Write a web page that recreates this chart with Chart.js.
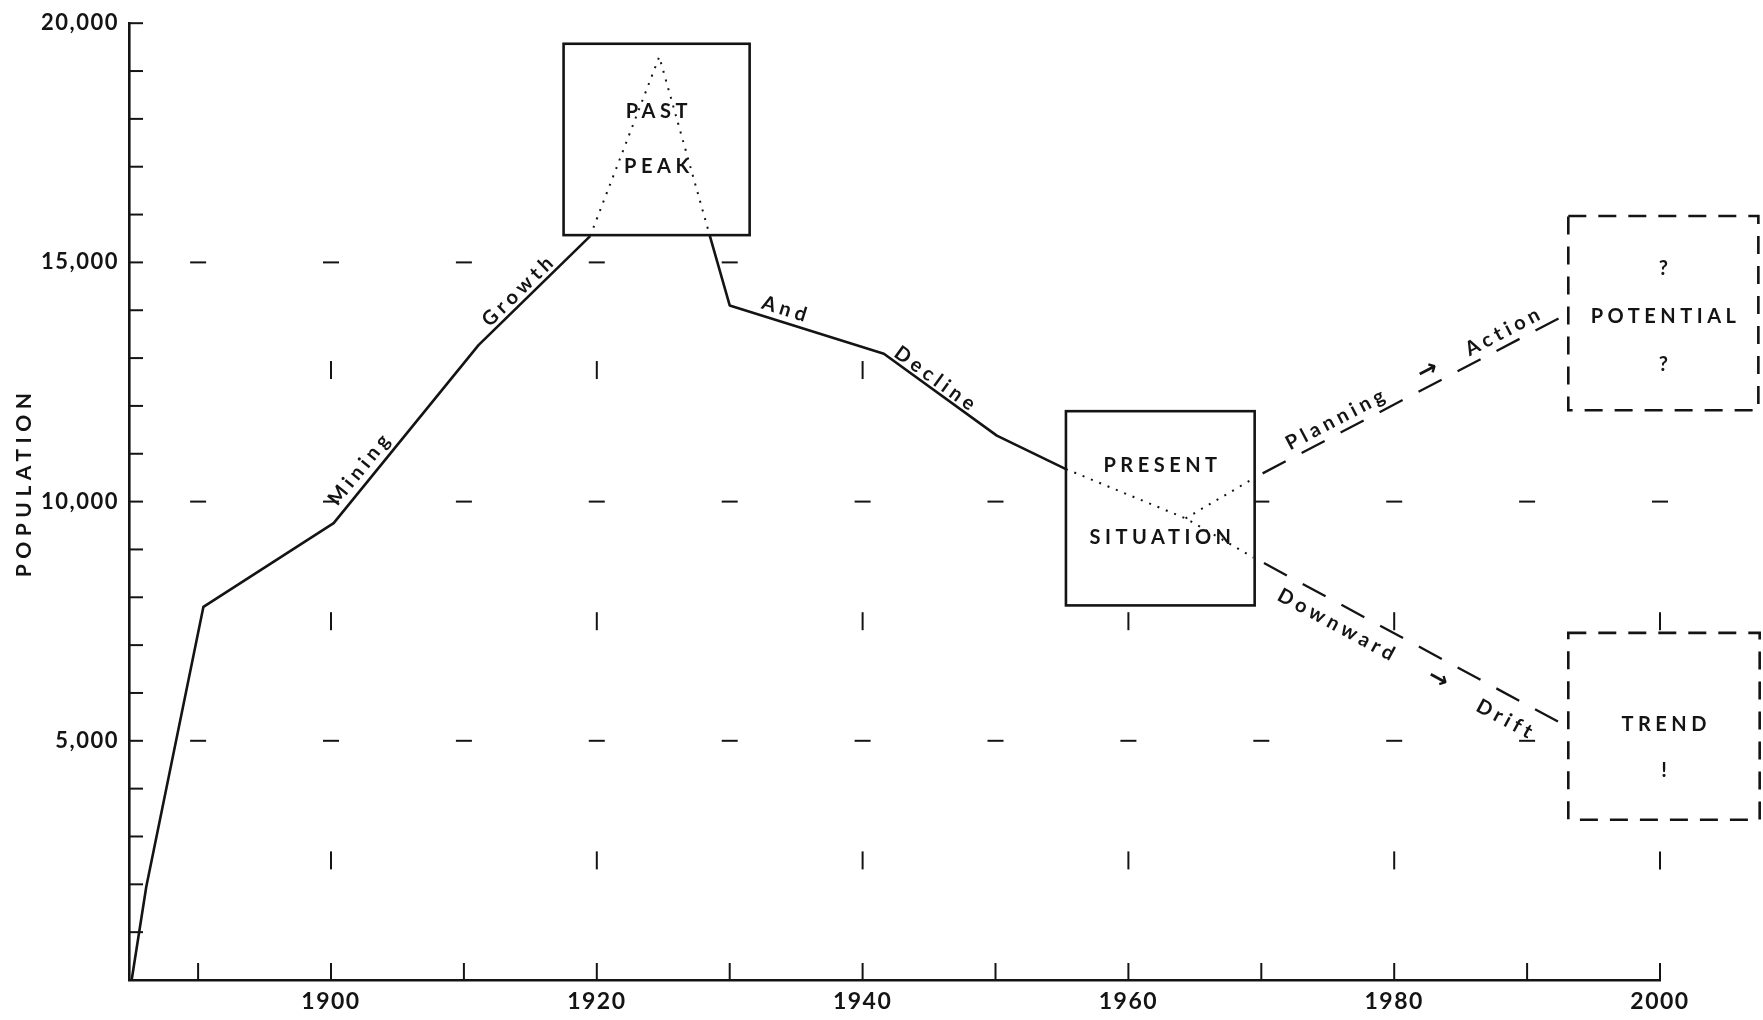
<!DOCTYPE html>
<html>
<head>
<meta charset="utf-8">
<title>Population</title>
<script src="https://cdn.jsdelivr.net/npm/chart.js@4.4.1/dist/chart.umd.min.js"></script>
<style>
  html, body { margin: 0; padding: 0; background: #fff; }
  canvas { display: block; }
</style>
</head>
<body>
<canvas id="popChart" width="1763" height="1020"></canvas>
<script>
// values (year, population)
const growthYears = [1885.0, 1886.1, 1890.4, 1900.2, 1911.1, 1919.5];
const growthPop   = [0, 1950, 7800, 9550, 13270, 15550];

const peakYears = [1919.5, 1924.7, 1928.5];
const peakPop   = [15550, 19300, 15560];

const declineYears = [1928.5, 1930.0, 1941.6, 1950.1, 1955.3];
const declinePop   = [15560, 14100, 13090, 11380, 10680];

const presentYears = [1955.3, 1964.3, 1969.4];
const presentPop   = [10680, 9650, 8830];
const branchYears  = [1964.3, 1969.4];
const branchPop    = [9650, 10480];

const planningYears = [1970.1, 1993.0];
const planningPop   = [10590, 13920];
const driftYears    = [1970.2, 1993.0];
const driftPop      = [8715, 5300];

// axes
const xTickYears  = [1890, 1900, 1910, 1920, 1930, 1940, 1950, 1960, 1970, 1980, 1990, 2000];
const xLabelYears = [1900, 1920, 1940, 1960, 1980, 2000];
const yTickValues = [1000, 2000, 3000, 4000, 5000, 6000, 7000, 8000, 9000, 10000,
                     11000, 12000, 13000, 14000, 15000, 16000, 17000, 18000, 19000, 20000];
const yLabelValues = [5000, 10000, 15000, 20000];

// the sparse dash grid inside the plot
const hDashRows = [
  { value: 15000, years: [1890, 1900, 1910, 1920, 1930] },
  { value: 10000, years: xTickYears },
  { value: 5000,  years: xTickYears }
];
const vDashRows = [
  { value: 12750, years: [1900, 1920, 1940] },
  { value: 7500,  years: xLabelYears },
  { value: 2500,  years: xLabelYears }
];

const INK = '#141414';
const FONT = 'Lato, "Open Sans", "DejaVu Sans", sans-serif';

// boxes round the stages
const boxes = [
  { x0: 1917.5, x1: 1931.5, y0: 15570, y1: 19570, dashed: false,
    text: [['PAST', 18160], ['PEAK', 17000]] },
  { x0: 1955.3, x1: 1969.5, y0: 7830, y1: 11890, dashed: false,
    text: [['PRESENT', 10760], ['SITUATION', 9250]] },
  { x0: 1993.1, x1: 2007.4, y0: 11910, y1: 15970, dashed: true,
    text: [['?', 14875], ['POTENTIAL', 13867], ['?', 12860]] },
  { x0: 1993.1, x1: 2007.5, y0: 3350, y1: 7256, dashed: true,
    text: [['TREND', 5333], ['!', 4375]] }
];

// words written along the line (segment of a series, place along it, distance off it)
const lineLabels = [
  { text: 'Mining',   years: growthYears,   pops: growthPop,   seg: 3, t: 0.25, off: 14 },
  { text: 'Growth',   years: growthYears,   pops: growthPop,   seg: 4, t: 0.42, off: 11 },
  { text: 'And',      years: declineYears,  pops: declinePop,  seg: 1, t: 0.33, off: 13 },
  { text: 'Decline',  years: declineYears,  pops: declinePop,  seg: 2, t: 0.40, off: 10 },
  { text: 'Planning', years: planningYears, pops: planningPop, seg: 0, t: 0.26, off: 14 },
  { text: '\u2192',   years: planningYears, pops: planningPop, seg: 0, t: 0.565, off: 14, arrow: true },
  { text: 'Action',   years: planningYears, pops: planningPop, seg: 0, t: 0.81, off: 14 },
  { text: 'Downward', years: driftYears,    pops: driftPop,    seg: 0, t: 0.27, off: -20 },
  { text: '\u2192',   years: driftYears,    pops: driftPop,    seg: 0, t: 0.605, off: -20, arrow: true },
  { text: 'Drift',    years: driftYears,    pops: driftPop,    seg: 0, t: 0.83, off: -23 }
];

function series(years, pops, extra) {
  return Object.assign({
    data: years.map((yr, i) => ({ x: yr, y: pops[i] })),
    borderColor: INK,
    borderWidth: 2.6,
    borderJoinStyle: 'round',
    pointRadius: 0,
    tension: 0,
    fill: false
  }, extra);
}

const dotted = { borderWidth: 2, borderDash: [2, 7] };
const dashed = { borderWidth: 2.3, borderDash: [26, 18] };

function stroke(ctx, x1, y1, x2, y2) {
  ctx.beginPath();
  ctx.moveTo(x1, y1);
  ctx.lineTo(x2, y2);
  ctx.stroke();
}

const sketch = {
  id: 'sketch',
  beforeDraw(chart) {
    // spaced-out lettering for the axis numbers
    chart.ctx.letterSpacing = '1.5px';
  },
  beforeDatasetsDraw(chart) {
    const { ctx, chartArea, scales: { x, y } } = chart;
    ctx.save();
    ctx.strokeStyle = INK;
    ctx.lineWidth = 2;

    // tick marks point into the plot
    x.ticks.forEach(t => {
      const px = x.getPixelForValue(t.value);
      stroke(ctx, px, chartArea.bottom, px, chartArea.bottom - 17);
    });
    y.ticks.forEach(t => {
      const py = y.getPixelForValue(t.value);
      stroke(ctx, chartArea.left, py, chartArea.left + 14, py);
    });

    hDashRows.forEach(row => {
      const py = y.getPixelForValue(row.value);
      row.years.forEach(yr => {
        const px = x.getPixelForValue(yr);
        stroke(ctx, px - 8, py, px + 8, py);
      });
    });
    vDashRows.forEach(row => {
      const py = y.getPixelForValue(row.value);
      row.years.forEach(yr => {
        const px = x.getPixelForValue(yr);
        stroke(ctx, px, py - 9, px, py + 9);
      });
    });

    ctx.fillStyle = '#fff';
    boxes.forEach(b => {
      const l = x.getPixelForValue(b.x0), r = x.getPixelForValue(b.x1);
      const t = y.getPixelForValue(b.y1), btm = y.getPixelForValue(b.y0);
      ctx.fillRect(l, t, r - l, btm - t);
    });
    ctx.restore();
  },
  afterDatasetsDraw(chart) {
    const { ctx, scales: { x, y } } = chart;
    ctx.save();
    ctx.strokeStyle = INK;
    ctx.fillStyle = INK;

    boxes.forEach(b => {
      const l = x.getPixelForValue(b.x0), r = x.getPixelForValue(b.x1);
      const t = y.getPixelForValue(b.y1), btm = y.getPixelForValue(b.y0);
      ctx.lineWidth = 2.6;
      ctx.setLineDash(b.dashed ? [18, 12] : []);
      ctx.strokeRect(l, t, r - l, btm - t);

      ctx.font = 'bold 20px ' + FONT;
      ctx.letterSpacing = '4.5px';
      ctx.textAlign = 'center';
      ctx.textBaseline = 'middle';
      const cx = (l + r) / 2;
      b.text.forEach(([word, val]) => {
        ctx.fillText(word, cx + 2.25, y.getPixelForValue(val));
      });
    });
    ctx.setLineDash([]);

    lineLabels.forEach(lab => {
      const i = lab.seg;
      const ax = x.getPixelForValue(lab.years[i]), ay = y.getPixelForValue(lab.pops[i]);
      const bx = x.getPixelForValue(lab.years[i + 1]), by = y.getPixelForValue(lab.pops[i + 1]);
      ctx.save();
      ctx.translate(ax + (bx - ax) * lab.t, ay + (by - ay) * lab.t);
      ctx.rotate(Math.atan2(by - ay, bx - ax));
      ctx.textAlign = 'center';
      ctx.textBaseline = 'middle';
      if (lab.arrow) {
        ctx.font = 'bold 24px "DejaVu Sans", sans-serif';
        ctx.letterSpacing = '0px';
        ctx.fillText(lab.text, 0, -lab.off);
      } else {
        ctx.font = 'bold 20px ' + FONT;
        ctx.letterSpacing = '4.5px';
        ctx.fillText(lab.text, 2, -lab.off);
      }
      ctx.restore();
    });
    ctx.restore();
  },
  afterDraw(chart) {
    const { ctx, scales: { y } } = chart;
    ctx.save();
    ctx.fillStyle = INK;
    ctx.font = 'bold 21px ' + FONT;
    ctx.letterSpacing = '5.5px';
    ctx.textAlign = 'center';
    ctx.textBaseline = 'middle';
    ctx.translate(24, y.getPixelForValue(10350));
    ctx.rotate(-Math.PI / 2);
    ctx.fillText('POPULATION', 2.5, 0);
    ctx.restore();
    ctx.letterSpacing = '0px';
  }
};

new Chart(document.getElementById('popChart'), {
  type: 'line',
  data: {
    datasets: [
      series(growthYears, growthPop),
      series(peakYears, peakPop, dotted),
      series(declineYears, declinePop),
      series(presentYears, presentPop, dotted),
      series(branchYears, branchPop, dotted),
      series(planningYears, planningPop, dashed),
      series(driftYears, driftPop, dashed)
    ]
  },
  options: {
    responsive: false,
    animation: false,
    devicePixelRatio: 1,
    events: [],
    layout: { padding: { top: 20, right: 103, bottom: 0, left: 1 } },
    plugins: { legend: { display: false }, tooltip: { enabled: false } },
    scales: {
      x: {
        type: 'linear',
        min: 1884.8,
        max: 2000,
        afterBuildTicks: s => { s.ticks = xTickYears.map(v => ({ value: v })); },
        afterFit: s => { s.height = 40; },
        grid: { display: false, drawTicks: false },
        border: { display: true, color: INK, width: 2.6 },
        ticks: {
          autoSkip: false,
          maxRotation: 0,
          padding: 8,
          color: INK,
          font: { family: FONT, size: 23, weight: 'bold' },
          callback: v => xLabelYears.includes(v) ? String(v) : ''
        }
      },
      y: {
        min: 0,
        max: 20000,
        afterBuildTicks: s => { s.ticks = yTickValues.map(v => ({ value: v })); },
        afterFit: s => { s.width = 128; },
        grid: { display: false, drawTicks: false },
        border: { display: true, color: INK, width: 2.6 },
        ticks: {
          autoSkip: false,
          padding: 10,
          color: INK,
          font: { family: FONT, size: 22, weight: 'bold' },
          callback: v => yLabelValues.includes(v) ? v.toLocaleString('en-US') : ''
        }
      }
    }
  },
  plugins: [sketch]
});
</script>
</body>
</html>
